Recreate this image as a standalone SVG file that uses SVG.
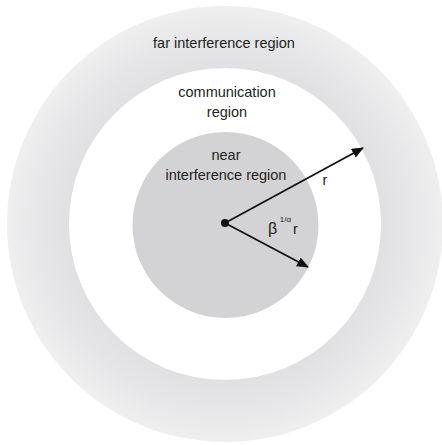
<svg xmlns="http://www.w3.org/2000/svg" width="442" height="445" viewBox="0 0 442 445">
<style>
text{font-family:"Liberation Sans",Arial,sans-serif;font-size:14.5px;fill:#231f20;text-anchor:middle}
.conn{stroke:#111;stroke-width:1.8;fill:none}
</style>
<defs>
<radialGradient id="g" gradientUnits="userSpaceOnUse" cx="225" cy="224" r="218">
<stop offset="0.72" stop-color="#e1e1e3"/>
<stop offset="0.85" stop-color="#e6e6e8"/>
<stop offset="1" stop-color="#efeff0"/>
</radialGradient>
<marker id="ah" viewBox="0 0 12 10" refX="11" refY="5" markerWidth="12" markerHeight="10" markerUnits="userSpaceOnUse" orient="auto">
<path d="M0,0 L12,5 L0,10 Z" fill="#111"/>
</marker>
</defs>
<rect width="442" height="445" fill="#fff"/>
<g id="far">
<circle cx="225" cy="224" r="218" fill="url(#g)"/>
<text x="224" y="48">far interference region</text>
</g>
<g id="comm">
<circle cx="225" cy="224" r="156" fill="#fff"/>
<text x="227" y="97">communication</text>
<text x="227" y="117">region</text>
</g>
<g id="near">
<circle cx="225.5" cy="225" r="93" fill="#d3d3d5"/>
<text x="226" y="160">near</text>
<text x="226" y="180">interference region</text>
</g>
<g id="connectors">
<line class="conn" x1="225" y1="223" x2="363" y2="148" marker-end="url(#ah)"/>
<line class="conn" x1="225" y1="223" x2="308" y2="267" marker-end="url(#ah)"/>
<circle cx="225" cy="223" r="4" fill="#111"/>
<text x="325" y="185">r</text>
<text x="272.5" y="233.5" style="font-size:16px">β</text>
<text x="285.5" y="222" style="font-size:8px">1/α</text>
<text x="295.5" y="233.5">r</text>
</g>
</svg>
